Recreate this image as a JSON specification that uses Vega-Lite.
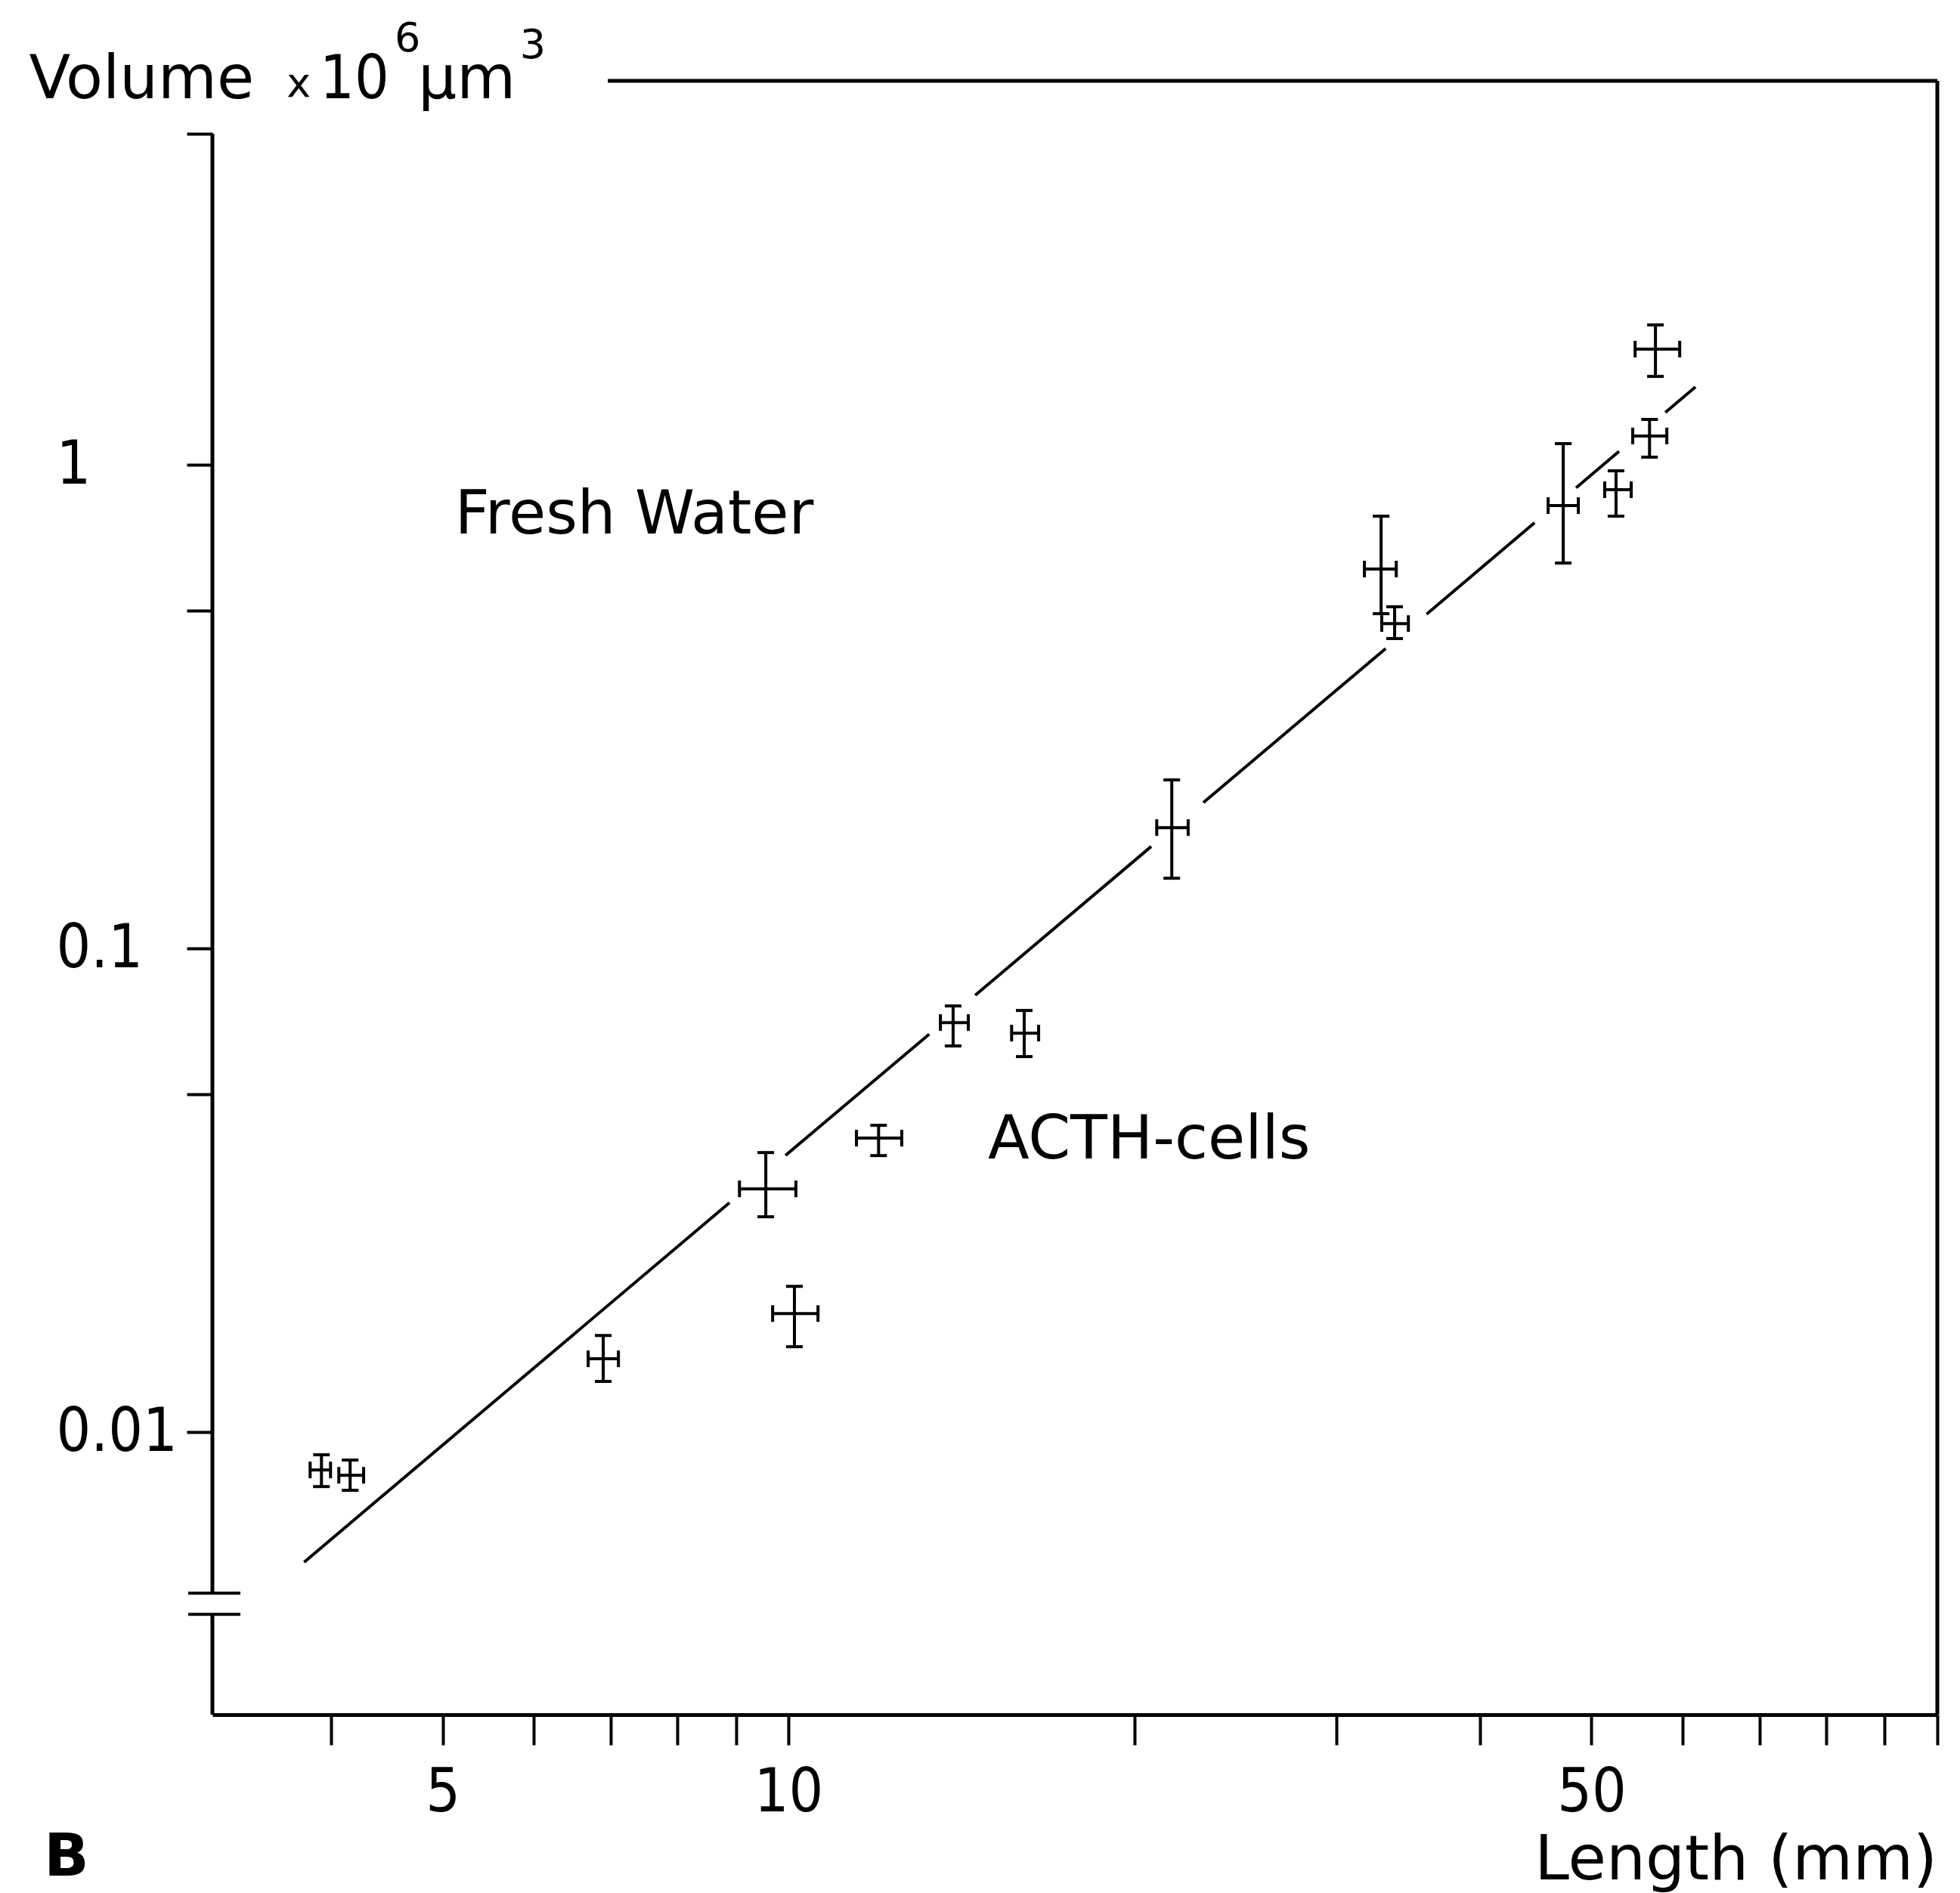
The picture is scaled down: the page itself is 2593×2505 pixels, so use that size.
{
  "$schema": "https://vega.github.io/schema/vega-lite/v6.json",
  "width": 2282,
  "height": 2162,
  "autosize": {"type": "none"},
  "padding": {"left": 281, "top": 107, "right": 30, "bottom": 236},
  "background": "white",
  "config": {"view": {"stroke": null}, "font": "DejaVu Sans"},
  "datasets": {
    "points": [
      {"len": 3.922, "vol": 0.008354, "len_lo": 3.834, "len_hi": 3.994, "vol_lo": 0.007718, "vol_hi": 0.008979},
      {"len": 4.154, "vol": 0.008145, "len_lo": 4.061, "len_hi": 4.268, "vol_lo": 0.007581, "vol_hi": 0.008756},
      {"len": 6.899, "vol": 0.01418, "len_lo": 6.694, "len_hi": 7.112, "vol_lo": 0.01273, "vol_hi": 0.01585},
      {"len": 9.556, "vol": 0.03184, "len_lo": 9.065, "len_hi": 10.15, "vol_lo": 0.02788, "vol_hi": 0.03785},
      {"len": 10.12, "vol": 0.01759, "len_lo": 9.688, "len_hi": 10.61, "vol_lo": 0.01502, "vol_hi": 0.02002},
      {"len": 11.98, "vol": 0.04054, "len_lo": 11.46, "len_hi": 12.55, "vol_lo": 0.03731, "vol_hi": 0.04309},
      {"len": 13.91, "vol": 0.07028, "len_lo": 13.56, "len_hi": 14.34, "vol_lo": 0.06287, "vol_hi": 0.07606},
      {"len": 16.04, "vol": 0.06683, "len_lo": 15.64, "len_hi": 16.51, "vol_lo": 0.05977, "vol_hi": 0.07444},
      {"len": 21.56, "vol": 0.1778, "len_lo": 20.92, "len_hi": 22.28, "vol_lo": 0.1397, "vol_hi": 0.2231},
      {"len": 32.80, "vol": 0.6087, "len_lo": 31.72, "len_hi": 33.81, "vol_lo": 0.4922, "vol_hi": 0.7829},
      {"len": 33.70, "vol": 0.4696, "len_lo": 32.84, "len_hi": 34.64, "vol_lo": 0.4372, "vol_hi": 0.5087},
      {"len": 47.25, "vol": 0.8233, "len_lo": 45.84, "len_hi": 48.70, "vol_lo": 0.6264, "vol_hi": 1.106},
      {"len": 52.52, "vol": 0.8880, "len_lo": 51.34, "len_hi": 54.14, "vol_lo": 0.7829, "vol_hi": 0.9716},
      {"len": 56.17, "vol": 1.147, "len_lo": 54.31, "len_hi": 58.15, "vol_lo": 1.037, "vol_hi": 1.241},
      {"len": 56.84, "vol": 1.734, "len_lo": 54.57, "len_hi": 59.67, "vol_lo": 1.523, "vol_hi": 1.946}
    ],
    "fit": [
      {"x1": 3.788, "y1": 0.005385, "x2": 8.886, "y2": 0.02981},
      {"x1": 9.940, "y1": 0.03733, "x2": 13.26, "y2": 0.06649},
      {"x1": 14.54, "y1": 0.08005, "x2": 20.69, "y2": 0.1625},
      {"x1": 22.97, "y1": 0.2003, "x2": 33.10, "y2": 0.4169},
      {"x1": 35.93, "y1": 0.4912, "x2": 44.61, "y2": 0.7586},
      {"x1": 48.48, "y1": 0.8965, "x2": 52.84, "y2": 1.066},
      {"x1": 57.98, "y1": 1.283, "x2": 61.59, "y2": 1.449}
    ],
    "yaxis": [
      {"ax": 3.152, "ylo": 0.002606, "yhi": 0.004201},
      {"ax": 3.152, "ylo": 0.004648, "yhi": 4.835}
    ],
    "breaks": [
      {"bx1": 3.003, "bx2": 3.334, "by": 0.004201},
      {"bx1": 3.003, "bx2": 3.334, "by": 0.004648}
    ],
    "frame": [
      {"fx1": 6.963, "fx2": 100, "fy1": 6.219, "fy2": 6.219},
      {"fx1": 100, "fx2": 100, "fy1": 0.002606, "fy2": 6.219}
    ],
    "bigtext": [
      {"t": "Volume", "tx": 2.735, "ty": 5.726},
      {"t": "µm", "tx": 5.25, "ty": 5.726},
      {"t": "Fresh Water", "tx": 7.341, "ty": 0.7208},
      {"t": "ACTH-cells", "tx": 20.60, "ty": 0.03677}
    ],
    "tentext": [
      {"t": "10", "tx": 4.19, "ty": 5.726}
    ],
    "smalltext": [
      {"t": "x", "tx": 3.748, "ty": 5.767},
      {"t": "6", "tx": 4.66, "ty": 7.155},
      {"t": "3", "tx": 5.99, "ty": 6.929}
    ],
    "xtitle": [{"t": "Length (mm)", "tx": 100, "ty": 0.001189}],
    "panel": [{"t": "B", "tx": 2.249, "ty": 0.00121}]
  },
  "layer": [
    {
      "data": {"name": "yaxis"},
      "mark": {"type": "rule", "strokeWidth": 5, "color": "black"},
      "encoding": {
        "x": {"field": "ax", "type": "quantitative", "title": null,
              "scale": {"type": "log", "domain": [3.152, 100], "nice": false},
              "axis": {"title": null, "values": [4, 5, 6, 7, 8, 9, 10, 20, 30, 40, 50, 60, 70, 80, 90, 100],
                       "labelExpr": "datum.value == 5 ? '5' : datum.value == 10 ? '10' : datum.value == 50 ? '50' : ''",
                       "tickSize": 40, "tickWidth": 4, "tickColor": "black",
                       "domainColor": "black", "domainWidth": 5,
                       "labelFontSize": 80, "labelFont": "Liberation Sans Narrow, DejaVu Sans Condensed, DejaVu Sans",
                       "labelColor": "black", "labelPadding": 24, "labelBaseline": "top",
                       "labelFlush": false, "labelOverlap": false, "grid": false}},
        "y": {"field": "ylo", "type": "quantitative", "title": null,
              "scale": {"type": "log", "domain": [0.002606, 6.219], "nice": false},
              "axis": {"title": null, "values": [0.01, 0.05, 0.1, 0.5, 1, 4.835],
                       "labelExpr": "datum.value == 1 ? '1' : datum.value == 0.1 ? '0.1' : datum.value == 0.01 ? '0.01' : ''",
                       "domain": false, "tickSize": 34, "tickWidth": 4, "tickColor": "black",
                       "labelAlign": "left", "labelPadding": 173, "labelBaseline": "middle",
                       "labelFontSize": 80, "labelFont": "Liberation Sans Narrow, DejaVu Sans Condensed, DejaVu Sans",
                       "labelColor": "black", "labelFlush": false, "labelOverlap": false, "grid": false}},
        "y2": {"field": "yhi"}
      }
    },
    {
      "data": {"name": "breaks"},
      "mark": {"type": "rule", "strokeWidth": 4, "color": "black", "clip": false},
      "encoding": {
        "x": {"field": "bx1", "type": "quantitative", "title": null, "scale": {"type": "log", "domain": [3.152, 100], "nice": false}},
        "x2": {"field": "bx2"},
        "y": {"field": "by", "type": "quantitative", "title": null, "scale": {"type": "log", "domain": [0.002606, 6.219], "nice": false}}
      }
    },
    {
      "data": {"name": "frame"},
      "mark": {"type": "rule", "strokeWidth": 5, "color": "black"},
      "encoding": {
        "x": {"field": "fx1", "type": "quantitative", "title": null, "scale": {"type": "log", "domain": [3.152, 100], "nice": false}},
        "x2": {"field": "fx2"},
        "y": {"field": "fy1", "type": "quantitative", "title": null, "scale": {"type": "log", "domain": [0.002606, 6.219], "nice": false}},
        "y2": {"field": "fy2"}
      }
    },
    {
      "data": {"name": "fit"},
      "mark": {"type": "rule", "strokeWidth": 4, "color": "black"},
      "encoding": {
        "x": {"field": "x1", "type": "quantitative", "title": null, "scale": {"type": "log", "domain": [3.152, 100], "nice": false}},
        "x2": {"field": "x2"},
        "y": {"field": "y1", "type": "quantitative", "title": null, "scale": {"type": "log", "domain": [0.002606, 6.219], "nice": false}},
        "y2": {"field": "y2"}
      }
    },
    {
      "data": {"name": "points"},
      "mark": {"type": "rule", "strokeWidth": 4, "color": "black"},
      "encoding": {
        "x": {"field": "len", "type": "quantitative", "title": null, "scale": {"type": "log", "domain": [3.152, 100], "nice": false}},
        "y": {"field": "vol_lo", "type": "quantitative", "title": null, "scale": {"type": "log", "domain": [0.002606, 6.219], "nice": false}},
        "y2": {"field": "vol_hi"}
      }
    },
    {
      "data": {"name": "points"},
      "mark": {"type": "rule", "strokeWidth": 4, "color": "black"},
      "encoding": {
        "x": {"field": "len_lo", "type": "quantitative", "title": null, "scale": {"type": "log", "domain": [3.152, 100], "nice": false}},
        "x2": {"field": "len_hi"},
        "y": {"field": "vol", "type": "quantitative", "title": null, "scale": {"type": "log", "domain": [0.002606, 6.219], "nice": false}}
      }
    },
    {
      "data": {"name": "points"},
      "mark": {"type": "tick", "orient": "horizontal", "size": 22, "thickness": 4, "color": "black", "opacity": 1},
      "encoding": {
        "x": {"field": "len", "type": "quantitative", "title": null, "scale": {"type": "log", "domain": [3.152, 100], "nice": false}},
        "y": {"field": "vol_lo", "type": "quantitative", "title": null, "scale": {"type": "log", "domain": [0.002606, 6.219], "nice": false}}
      }
    },
    {
      "data": {"name": "points"},
      "mark": {"type": "tick", "orient": "horizontal", "size": 22, "thickness": 4, "color": "black", "opacity": 1},
      "encoding": {
        "x": {"field": "len", "type": "quantitative", "title": null, "scale": {"type": "log", "domain": [3.152, 100], "nice": false}},
        "y": {"field": "vol_hi", "type": "quantitative", "title": null, "scale": {"type": "log", "domain": [0.002606, 6.219], "nice": false}}
      }
    },
    {
      "data": {"name": "points"},
      "mark": {"type": "tick", "orient": "vertical", "size": 22, "thickness": 4, "color": "black", "opacity": 1},
      "encoding": {
        "x": {"field": "len_lo", "type": "quantitative", "title": null, "scale": {"type": "log", "domain": [3.152, 100], "nice": false}},
        "y": {"field": "vol", "type": "quantitative", "title": null, "scale": {"type": "log", "domain": [0.002606, 6.219], "nice": false}}
      }
    },
    {
      "data": {"name": "points"},
      "mark": {"type": "tick", "orient": "vertical", "size": 22, "thickness": 4, "color": "black", "opacity": 1},
      "encoding": {
        "x": {"field": "len_hi", "type": "quantitative", "title": null, "scale": {"type": "log", "domain": [3.152, 100], "nice": false}},
        "y": {"field": "vol", "type": "quantitative", "title": null, "scale": {"type": "log", "domain": [0.002606, 6.219], "nice": false}}
      }
    },
    {
      "data": {"name": "bigtext"},
      "mark": {"type": "text", "fontSize": 80, "align": "center", "baseline": "alphabetic", "color": "black", "font": "DejaVu Sans"},
      "encoding": {
        "x": {"field": "tx", "type": "quantitative", "title": null, "scale": {"type": "log", "domain": [3.152, 100], "nice": false}},
        "y": {"field": "ty", "type": "quantitative", "title": null, "scale": {"type": "log", "domain": [0.002606, 6.219], "nice": false}},
        "text": {"field": "t"}
      }
    },
    {
      "data": {"name": "tentext"},
      "mark": {"type": "text", "fontSize": 80, "align": "center", "baseline": "alphabetic", "color": "black", "font": "Liberation Sans Narrow, DejaVu Sans Condensed, DejaVu Sans"},
      "encoding": {
        "x": {"field": "tx", "type": "quantitative", "title": null, "scale": {"type": "log", "domain": [3.152, 100], "nice": false}},
        "y": {"field": "ty", "type": "quantitative", "title": null, "scale": {"type": "log", "domain": [0.002606, 6.219], "nice": false}},
        "text": {"field": "t"}
      }
    },
    {
      "data": {"name": "smalltext"},
      "mark": {"type": "text", "fontSize": 54, "align": "center", "baseline": "alphabetic", "color": "black", "font": "DejaVu Sans"},
      "encoding": {
        "x": {"field": "tx", "type": "quantitative", "title": null, "scale": {"type": "log", "domain": [3.152, 100], "nice": false}},
        "y": {"field": "ty", "type": "quantitative", "title": null, "scale": {"type": "log", "domain": [0.002606, 6.219], "nice": false}},
        "text": {"field": "t"}
      }
    },
    {
      "data": {"name": "xtitle"},
      "mark": {"type": "text", "fontSize": 82, "align": "right", "baseline": "alphabetic", "color": "black", "font": "DejaVu Sans"},
      "encoding": {
        "x": {"field": "tx", "type": "quantitative", "title": null, "scale": {"type": "log", "domain": [3.152, 100], "nice": false}},
        "y": {"field": "ty", "type": "quantitative", "title": null, "scale": {"type": "log", "domain": [0.002606, 6.219], "nice": false}},
        "text": {"field": "t"}
      }
    },
    {
      "data": {"name": "panel"},
      "mark": {"type": "text", "fontSize": 78, "fontWeight": "bold", "align": "left", "baseline": "alphabetic", "color": "black", "font": "DejaVu Sans"},
      "encoding": {
        "x": {"field": "tx", "type": "quantitative", "title": null, "scale": {"type": "log", "domain": [3.152, 100], "nice": false}},
        "y": {"field": "ty", "type": "quantitative", "title": null, "scale": {"type": "log", "domain": [0.002606, 6.219], "nice": false}},
        "text": {"field": "t"}
      }
    }
  ]
}
